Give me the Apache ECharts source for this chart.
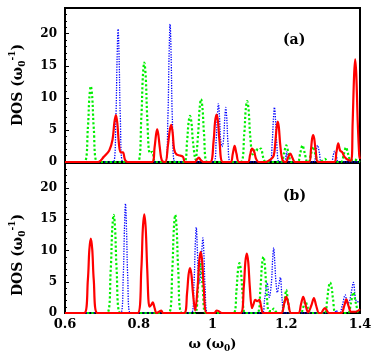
<!DOCTYPE html>
<html>
<head>
<meta charset="utf-8">
<script src="https://cdn.jsdelivr.net/npm/echarts@6/dist/echarts.min.js"></script>
<style>html,body{margin:0;padding:0;background:#fff}#c{width:382px;height:354px}</style>
</head>
<body>
<div id="c"></div>
<script>
// x range and ticks
var xTicks = [0.6, 0.8, 1.0, 1.2, 1.4];
var yTicks = [0, 5, 10, 15, 20];

// Panel (a)
var greenA = [[0.6,0],[0.652,0],[0.662,5.3],[0.666,10],[0.670,11.8],[0.674,10],[0.678,5.3],[0.688,0],
  [0.797,0],[0.807,7],[0.811,13.2],[0.815,15.5],[0.819,13.2],[0.823,7],[0.830,1.4],[0.837,1.6],[0.846,0],
  [0.923,0],[0.931,3.2],[0.935,6.1],[0.939,7.2],[0.943,6.1],[0.947,3.2],[0.954,0.4],[0.961,4.4],[0.965,8.3],[0.969,9.8],[0.973,8.3],[0.977,4.4],[0.986,0],
  [1.076,0],[1.086,4.3],[1.090,8.1],[1.094,9.5],[1.098,8.1],[1.102,4.3],[1.109,1.2],[1.117,2.1],[1.124,1.8],[1.131,2.1],[1.138,0.6],[1.145,0],
  [1.186,0],[1.194,1.4],[1.200,2.6],[1.206,1.4],[1.214,0],
  [1.231,0],[1.238,1.4],[1.244,2.6],[1.250,1.4],[1.257,0],
  [1.261,0],[1.267,1.2],[1.273,2.4],[1.279,1.2],[1.288,0],[1.298,0.2],[1.305,0.5],[1.313,0],
  [1.348,0],[1.356,1.2],[1.362,2.3],[1.368,1.2],[1.375,0.2],[1.382,0.4],[1.4,0]];
var blueA = [[0.6,0],[0.731,0],[0.738,7],[0.741,15.5],[0.744,20.7],[0.747,15.5],[0.750,7],[0.757,0],
  [0.872,0],[0.879,7],[0.882,16],[0.885,21.5],[0.888,16],[0.891,7],[0.898,0],
  [1.004,0],[1.010,3.5],[1.013,7],[1.016,9.1],[1.019,7],[1.022,3.5],[1.026,2.4],[1.030,3.5],[1.033,6.5],[1.036,8.5],[1.039,6.5],[1.042,3],[1.049,0],
  [1.155,0],[1.162,3.2],[1.165,6.5],[1.168,8.5],[1.171,6.5],[1.174,3.2],[1.181,0],[1.195,0],[1.201,1.6],[1.207,0],
  [1.275,0],[1.280,1.4],[1.285,2.6],[1.290,1.4],[1.296,0],
  [1.322,0],[1.327,0.9],[1.331,1.7],[1.336,0.9],[1.342,0],[1.4,0]];
var redA = [[0.6,0],[0.690,0],[0.705,0.8],[0.720,1.8],[0.729,3.5],[0.734,6.2],[0.738,7.3],[0.742,6],[0.746,3],[0.751,1.5],[0.757,1.5],[0.763,0.3],[0.770,0],
  [0.836,0],[0.843,2.3],[0.847,4.3],[0.850,5.1],[0.853,4.3],[0.857,2.3],[0.863,0.2],[0.872,0],
  [0.879,2.5],[0.884,4.9],[0.888,5.8],[0.892,4.5],[0.896,2.0],[0.902,1.2],[0.912,1.0],[0.920,0.8],[0.926,0],
  [0.952,0],[0.958,0.4],[0.963,0.7],[0.968,0.3],[0.975,0],
  [0.994,0],[1.003,3.3],[1.007,6.3],[1.011,7.4],[1.015,6.3],[1.019,3.3],[1.028,0],
  [1.049,0],[1.055,1.3],[1.060,2.5],[1.065,1.3],[1.072,0],
  [1.096,0],[1.102,1.1],[1.107,2.1],[1.113,1.6],[1.118,0.5],[1.125,0],
  [1.144,0],[1.158,0.4],[1.166,1.0],[1.170,2.8],[1.174,5.4],[1.177,6.3],[1.180,5.4],[1.184,2.5],[1.190,0.3],
  [1.199,0],[1.205,0.7],[1.211,1.3],[1.217,0.6],[1.224,0],
  [1.262,0],[1.267,1.9],[1.270,3.6],[1.273,4.2],[1.276,3.6],[1.280,1.7],[1.287,0],
  [1.330,0],[1.336,1.5],[1.341,2.9],[1.346,1.8],[1.352,1.5],[1.358,0.8],[1.368,0.3],[1.376,0.2],
  [1.380,6],[1.384,13.5],[1.387,16.0],[1.390,13.5],[1.394,6],[1.398,1],[1.4,0.5]];

// Panel (b)
var greenB = [[0.6,0],[0.714,0],[0.724,7],[0.728,13.3],[0.732,15.7],[0.736,13.3],[0.740,7],[0.750,0],
  [0.881,0],[0.891,7],[0.895,13.3],[0.899,15.7],[0.903,13.3],[0.907,7],[0.917,0],
  [0.952,0],[0.960,3.6],[0.964,6.8],[0.967,8.0],[0.970,6.8],[0.974,3.6],[0.982,0],
  [1.057,0],[1.065,3.6],[1.069,6.8],[1.073,8.0],[1.077,6.8],[1.081,3.6],[1.089,0],
  [1.121,0],[1.130,4],[1.134,7.6],[1.138,9.0],[1.142,7.6],[1.146,4],[1.153,0.3],[1.160,0.3],[1.166,0.7],[1.172,0.2],[1.180,0],
  [1.187,0],[1.195,1.8],[1.200,3.7],[1.205,1.8],[1.213,0],
  [1.239,0],[1.246,0.9],[1.252,1.9],[1.258,0.9],[1.266,0],
  [1.303,0],[1.311,2.2],[1.315,4.1],[1.319,4.9],[1.323,4.1],[1.327,2.2],[1.335,0],
  [1.367,0],[1.375,1.5],[1.382,3.3],[1.389,1.5],[1.397,0],[1.4,0]];
var blueB = [[0.6,0],[0.751,0],[0.758,6],[0.761,13],[0.764,17.5],[0.767,13],[0.770,6],[0.777,0],
  [0.943,0],[0.950,5],[0.953,10.5],[0.956,13.7],[0.959,10],[0.962,5.5],[0.965,4.8],[0.968,7],[0.971,10],[0.974,12.0],[0.977,9],[0.980,4],[0.987,0],
  [1.135,0],[1.141,2],[1.148,4.9],[1.154,2.5],[1.160,5],[1.163,8.5],[1.166,10.4],[1.169,8],[1.172,5],[1.176,3.3],[1.180,4.5],[1.184,5.7],[1.189,2],[1.195,0],
  [1.330,0],[1.336,0.4],[1.340,0],
  [1.345,0],[1.352,1.2],[1.360,2.9],[1.366,1.5],[1.371,1.8],[1.377,3.5],[1.382,4.9],[1.388,2.2],[1.393,1.8],[1.4,1.8]];
var redB = [[0.6,0],[0.652,0],[0.662,5.3],[0.666,10.1],[0.670,11.9],[0.674,10.1],[0.678,5.3],[0.688,0],
  [0.797,0],[0.807,7],[0.811,13.4],[0.815,15.8],[0.819,13.4],[0.823,7],[0.829,1.0],[0.834,1.3],[0.838,1.7],[0.843,0.8],[0.848,0],[0.855,0.2],[0.861,0.4],[0.866,0],
  [0.923,0],[0.931,3.2],[0.935,6.1],[0.939,7.2],[0.943,6.1],[0.947,3.2],[0.953,0.4],[0.960,4.4],[0.964,8.3],[0.968,9.8],[0.972,8.3],[0.976,4.4],[0.985,0],
  [1.005,0],[1.011,0.4],[1.017,0.3],[1.025,0],
  [1.076,0],[1.085,4.3],[1.089,8.1],[1.093,9.5],[1.097,8.1],[1.101,4.3],[1.107,0.8],[1.111,1.4],[1.116,2.1],[1.121,1.9],[1.127,2.1],[1.132,1.0],[1.138,0],
  [1.186,0],[1.194,1.4],[1.200,2.6],[1.206,1.4],[1.213,0],
  [1.233,0],[1.240,1.4],[1.246,2.6],[1.252,1.4],[1.259,0.1],[1.268,1.2],[1.275,2.4],[1.281,1.2],[1.289,0],
  [1.295,0],[1.300,0.5],[1.305,0.8],[1.310,0.4],[1.316,0],
  [1.349,0],[1.357,1.1],[1.363,2.2],[1.369,1.1],[1.376,0.2],[1.388,0.2],[1.4,0.6]];

var FONT = 'DejaVu Serif';
var chart = echarts.init(document.getElementById('c'), null, {renderer: 'canvas'});

function yAxisCfg(gi, pad) {
  return {
    type: 'value', gridIndex: gi, min: 0, max: 24, interval: 5,
    axisLine: {show: true, lineStyle: {color: '#000', width: 2}},
    axisTick: {show: true, inside: true, length: 4, lineStyle: {color: '#000'}},
    minorTick: {show: true, splitNumber: 5, length: 2, lineStyle: {color: '#000'}},
    splitLine: {show: false},
    axisLabel: {show: true, margin: 8, color: '#000', fontFamily: FONT, fontWeight: 'bold', fontSize: 12,
      showMaxLabel: false,
      formatter: function (v) { return yTicks.indexOf(v) >= 0 ? String(v) : ''; }},
    name: '{t|DOS (ω}{s|0}{p|-1}{t|)}',
    nameLocation: 'middle', nameGap: 36,
    nameTextStyle: {color: '#000', padding: pad, rich: {
      t: {fontFamily: FONT, fontWeight: 'bold', fontSize: 14, color: '#000'},
      s: {fontFamily: FONT, fontWeight: 'bold', fontSize: 9, color: '#000', padding: [8, 0, 0, 0]},
      p: {fontFamily: FONT, fontWeight: 'bold', fontSize: 9, color: '#000', padding: [0, 0, 12, 0]}
    }}
  };
}

function series(data, xi, color, type, width) {
  return {
    type: 'line', xAxisIndex: xi, yAxisIndex: xi, data: data,
    showSymbol: false, smooth: 0.35, clip: true,
    lineStyle: {color: color, type: type, width: width},
    animation: false
  };
}

var option = {
  backgroundColor: '#fff',
  animation: false,
  grid: [
    {left: 58, right: 22, top: 8, height: 154, show: true, borderColor: '#000', borderWidth: 2, backgroundColor: 'transparent'},
    {left: 58, right: 22, top: 163, height: 153, show: true, borderColor: '#000', borderWidth: 2, backgroundColor: 'transparent'}
  ],
  xAxis: [
    {type: 'value', gridIndex: 0, min: 0.6, max: 1.4, interval: 0.2,
      axisLine: {show: true, onZero: true, lineStyle: {color: '#000', width: 1}},
      axisTick: {show: false}, axisLabel: {show: false}, splitLine: {show: false}},
    {type: 'value', gridIndex: 1, min: 0.6, max: 1.4, interval: 0.2,
      axisLine: {show: true, lineStyle: {color: '#000', width: 2}},
      axisTick: {show: false}, splitLine: {show: false},
      axisLabel: {show: true, margin: 5, color: '#000', fontFamily: FONT, fontWeight: 'bold', fontSize: 13,
        formatter: function (v) { return String(Math.round(v * 10) / 10); }},
      name: '{t|ω (ω}{s|0}{t|)}', nameLocation: 'middle', nameGap: 24,
      nameTextStyle: {rich: {
        t: {fontFamily: FONT, fontWeight: 'bold', fontSize: 13, color: '#000'},
        s: {fontFamily: FONT, fontWeight: 'bold', fontSize: 9, color: '#000', padding: [7, 0, 0, 0]}
      }}}
  ],
  yAxis: [yAxisCfg(0, [0, 0, 0, 0]), yAxisCfg(1, [0, 34, 0, 0])],
  graphic: [
    {type: 'text', left: 283, top: 33, style: {text: '(a)', font: 'bold 14px "DejaVu Serif"', fill: '#000'}},
    {type: 'text', left: 283, top: 189, style: {text: '(b)', font: 'bold 14px "DejaVu Serif"', fill: '#000'}}
  ],
  series: [
    series(blueA, 0, '#0000ff', 'dotted', 1.3),
    series(greenA, 0, '#00ee00', 'dotted', 2.2),
    series(redA, 0, '#ff0000', 'solid', 2.2),
    series(blueB, 1, '#0000ff', 'dotted', 1.3),
    series(greenB, 1, '#00ee00', 'dotted', 2.2),
    series(redB, 1, '#ff0000', 'solid', 2.2)
  ]
};
chart.setOption(option);
</script>
</body>
</html>
